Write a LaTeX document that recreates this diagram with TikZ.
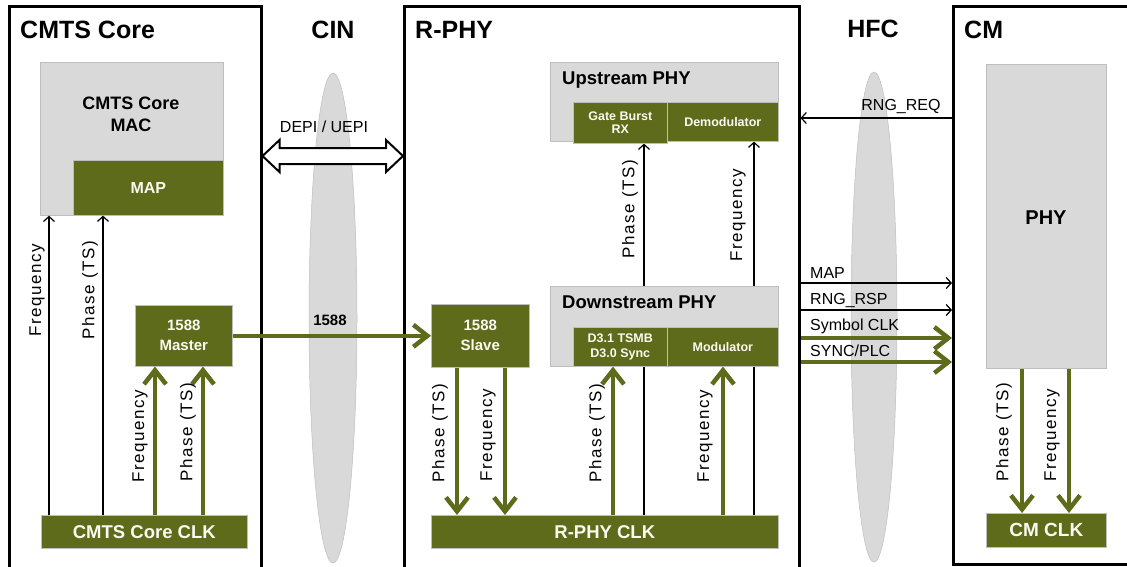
\documentclass[tikz,border=0pt]{standalone}
\usepackage{fontspec}
\setmainfont{Liberation Sans}
\newfontfamily\lblfont[LetterSpace=9]{Liberation Sans}
\usetikzlibrary{arrows.meta,calc,backgrounds}
\definecolor{olv}{RGB}{94,107,27}
\definecolor{phygray}{RGB}{217,217,217}
\definecolor{edgegray}{RGB}{190,190,190}
\definecolor{txtwhite}{RGB}{250,250,240}
\begin{document}
\begin{tikzpicture}[x=1pt,y=-1pt,
  bigbox/.style={draw=black, line width=2.5pt, anchor=north west, inner sep=0pt},
  graybox/.style={fill=phygray, draw=edgegray, line width=0.7pt, anchor=north west, inner sep=0pt},
  greenbox/.style={fill=olv, draw=edgegray, line width=0.6pt, anchor=north west, inner sep=0pt, text=txtwhite, align=center},
  title/.style={font=\fontsize{25}{25}\selectfont\bfseries, inner sep=0pt},
  subtitle/.style={font=\fontsize{18.5}{18.5}\selectfont\bfseries, inner sep=0pt, anchor=west},
  vlab/.style={rotate=90, inner sep=0pt, font=\lblfont\fontsize{17}{17}\selectfont},
  hlab/.style={inner sep=0pt, font=\fontsize{16}{16}\selectfont},
  cloud/.style={fill=phygray, draw=edgegray, line width=0.5pt},
  thinarr/.style={draw=black, line width=1.2pt, -{Straight Barb[length=5pt,width=11pt]}},
  thickarr/.style={draw=olv, line width=4.5pt, -{Straight Barb[length=14pt,width=22pt]}}
]
\useasboundingbox (0,0) rectangle (1127,566);

% network clouds
\filldraw[cloud] (333,318) ellipse [x radius=24pt, y radius=245pt];
\filldraw[cloud] (874,317) ellipse [x radius=23pt, y radius=245pt];

% big boxes
\node[bigbox, minimum width=252pt, minimum height=590pt] (core) at (8,5) {};
\node[bigbox, minimum width=395pt, minimum height=590pt] (rphy) at (403,5) {};
\node[bigbox, minimum width=210pt, minimum height=558pt] (cm) at (952,5) {};

% titles
\node[title, anchor=west] (tcore) at (20,30) {CMTS Core};
\node[title] (tcin) at (333,30) {CIN};
\node[title, anchor=west] (trphy) at (415,30) {R-PHY};
\node[title] (thfc) at (873,29) {HFC};
\node[title, anchor=west] (tcm) at (964,30) {CM};

% CMTS Core
\node[graybox, minimum width=183pt, minimum height=153pt] (mac) at (40,62) {};
\node[inner sep=0pt, align=center, font=\fontsize{18}{22}\selectfont\bfseries] (mactxt) at (131,114) {CMTS Core\\MAC};
\node[greenbox, minimum width=150pt, minimum height=55pt, font=\fontsize{16}{16}\selectfont\bfseries] (map) at (73,160) {MAP};
\node[greenbox, minimum width=97pt, minimum height=61pt, font=\fontsize{15}{20}\selectfont\bfseries] (master) at (135,305) {1588\\Master};
\node[greenbox, minimum width=206pt, minimum height=33pt, font=\fontsize{18.5}{18.5}\selectfont\bfseries] (coreclk) at (41,515) {CMTS Core CLK};

% R-PHY
\node[greenbox, minimum width=98pt, minimum height=63pt, font=\fontsize{15}{20}\selectfont\bfseries] (slave) at (431,304) {1588\\Slave};
\node[greenbox, minimum width=347pt, minimum height=33pt, font=\fontsize{18.5}{18.5}\selectfont\bfseries] (rphyclk) at (431,515) {R-PHY CLK};
\node[graybox, minimum width=228pt, minimum height=79pt] (us) at (550,62) {};
\node[subtitle] (ustxt) at (562,80) {Upstream PHY};
\node[greenbox, minimum width=94pt, minimum height=41pt, font=\fontsize{12.5}{13}\selectfont\bfseries] (gate) at (573,102) {Gate Burst\\RX};
\node[greenbox, minimum width=111pt, minimum height=39pt, font=\fontsize{12.5}{13}\selectfont\bfseries] (demod) at (667,102) {Demodulator};
\node[graybox, minimum width=228pt, minimum height=80pt] (ds) at (550,286) {};
\node[subtitle] (dstxt) at (562,302) {Downstream PHY};
\node[greenbox, minimum width=94pt, minimum height=39pt, font=\fontsize{12.5}{15}\selectfont\bfseries] (d31) at (573,327) {D3.1 TSMB\\D3.0 Sync};
\node[greenbox, minimum width=111pt, minimum height=39pt, font=\fontsize{12.5}{13}\selectfont\bfseries] (mod) at (667,327) {Modulator};

% CM
\node[graybox, minimum width=120pt, minimum height=304pt] (phy) at (986,64) {};
\node[inner sep=0pt, font=\fontsize{20}{20}\selectfont\bfseries] (phytxt) at (1046,218) {PHY};
\node[greenbox, minimum width=120pt, minimum height=34pt, font=\fontsize{19}{19}\selectfont\bfseries] (cmclk) at (986,513) {CM CLK};

% thin lines behind Downstream PHY
\begin{pgfonlayer}{background}
\draw[thinarr] (644,0 |- rphyclk.north) -- (644,0 |- gate.south);
\draw[thinarr] (754,0 |- rphyclk.north) -- (754,0 |- demod.south);
\end{pgfonlayer}
\node[vlab] (l1) at (630,209) {Phase (TS)};
\node[vlab] (l2) at (738,215) {Frequency};

% CMTS Core arrows
\draw[thinarr] (49,0 |- coreclk.north) -- (49,0 |- mac.south);
\draw[thinarr] (103,0 |- coreclk.north) -- (103,0 |- map.south);
\node[vlab] (l3) at (37,290) {Frequency};
\node[vlab] (l4) at (90,290) {Phase (TS)};
\draw[thickarr] (155,0 |- coreclk.north) -- (155,0 |- master.south);
\draw[thickarr] (203,0 |- coreclk.north) -- (203,0 |- master.south);
\node[vlab] (l5) at (140,436) {Frequency};
\node[vlab] (l6) at (188,432) {Phase (TS)};

% 1588 link
\draw[thickarr] (master.east) -- (slave.west);
\node[inner sep=0pt, font=\fontsize{15}{15}\selectfont\bfseries] (l1588) at (330,320) {1588};

% DEPI / UEPI
\coordinate (dl) at (core.east |- 0,156);
\coordinate (dr) at (rphy.west |- 0,156);
\draw[line width=2pt, fill=white, line join=miter] (dl) -- ++(17,-16) -- ++(0,8) -- ($(dr)+(-17,-8)$) -- ++(0,-8) -- (dr) -- ++(-17,16) -- ++(0,-8) -- ($(dl)+(17,8)$) -- ++(0,8) -- cycle;
\node[hlab] (ldepi) at (324,127) {DEPI / UEPI};

% R-PHY arrows
\draw[thickarr] (457,0 |- slave.south) -- (457,0 |- rphyclk.north);
\draw[thickarr] (505,0 |- slave.south) -- (505,0 |- rphyclk.north);
\node[vlab] (l7) at (440,433) {Phase (TS)};
\node[vlab] (l8) at (488,435) {Frequency};
\draw[thickarr] (613,0 |- rphyclk.north) -- (613,0 |- d31.south);
\draw[thickarr] (723,0 |- rphyclk.north) -- (723,0 |- mod.south);
\node[vlab] (l9) at (597,433) {Phase (TS)};
\node[vlab] (l10) at (705,436) {Frequency};

% HFC
\draw[thinarr] (cm.west |- 0,118) -- (rphy.east |- 0,118);
\node[hlab] (lreq) at (901,106) {RNG\_REQ};
\draw[thinarr] (rphy.east |- 0,283) -- (cm.west |- 0,283);
\node[hlab, anchor=west] (lmap) at (810,273) {MAP};
\draw[thinarr] (rphy.east |- 0,310) -- (cm.west |- 0,310);
\node[hlab, anchor=west] (lrsp) at (810,300) {RNG\_RSP};
\draw[thickarr] (rphy.east |- 0,338) -- (cm.west |- 0,338);
\node[hlab, anchor=west] (lsym) at (810,326) {Symbol CLK};
\draw[thickarr] (rphy.east |- 0,362) -- (cm.west |- 0,362);
\node[hlab, anchor=west] (lsync) at (810,351) {SYNC/PLC};

% CM arrows
\draw[thickarr] (1022,0 |- phy.south) -- (1022,0 |- cmclk.north);
\draw[thickarr] (1069,0 |- phy.south) -- (1069,0 |- cmclk.north);
\node[vlab] (l11) at (1004,432) {Phase (TS)};
\node[vlab] (l12) at (1052,435) {Frequency};
\end{tikzpicture}
\end{document}
